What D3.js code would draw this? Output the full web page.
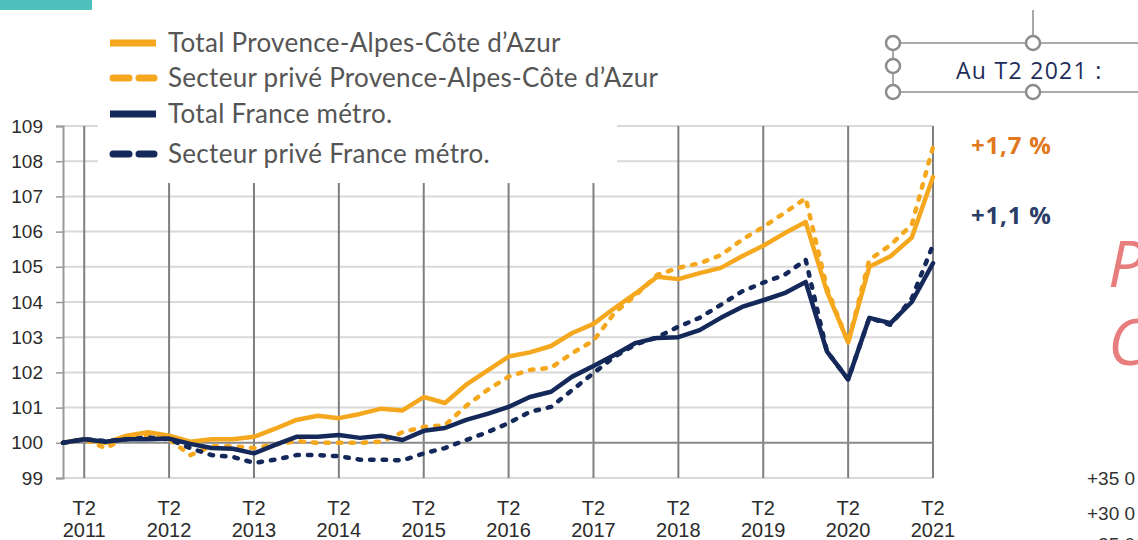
<!DOCTYPE html>
<html>
<head>
<meta charset="utf-8">
<script src="https://d3js.org/d3.v7.min.js"></script>
<style>
  body { margin: 0; background: #fff; }
  svg { display: block; }
</style>
</head>
<body>
<div id="chart"></div>
<script>

// quarters from T1 2011 to T2 2021
var quarters = [
  "2011T1","2011T2","2011T3","2011T4","2012T1","2012T2","2012T3","2012T4",
  "2013T1","2013T2","2013T3","2013T4","2014T1","2014T2","2014T3","2014T4",
  "2015T1","2015T2","2015T3","2015T4","2016T1","2016T2","2016T3","2016T4",
  "2017T1","2017T2","2017T3","2017T4","2018T1","2018T2","2018T3","2018T4",
  "2019T1","2019T2","2019T3","2019T4","2020T1","2020T2","2020T3","2020T4",
  "2021T1","2021T2"
];

var totalPaca = [
  100.0,100.1,100.0,100.2,100.3,100.2,100.03,100.1,100.1,100.17,100.4,100.65,
  100.77,100.7,100.82,100.97,100.92,101.3,101.13,101.65,102.05,102.45,102.57,102.75,
  103.12,103.38,103.83,104.25,104.72,104.65,104.82,104.97,105.3,105.6,105.95,106.27,
  104.3,102.85,105.0,105.3,105.83,107.55
];

var priveePaca = [
  100.0,100.1,99.85,100.15,100.2,100.1,99.65,99.9,99.9,99.85,99.95,100.05,
  100.0,100.0,100.0,100.03,100.3,100.45,100.5,101.05,101.5,101.88,102.07,102.13,
  102.55,102.9,103.7,104.2,104.77,104.97,105.1,105.33,105.77,106.13,106.53,106.95,
  104.4,102.85,105.2,105.62,106.2,108.4
];

var totalFrance = [
  100.0,100.1,100.03,100.1,100.1,100.12,99.97,99.85,99.83,99.7,99.94,100.17,
  100.17,100.22,100.14,100.2,100.08,100.34,100.42,100.65,100.82,101.02,101.3,101.45,
  101.88,102.18,102.5,102.84,102.98,103.0,103.2,103.55,103.86,104.05,104.25,104.57,
  102.6,101.8,103.55,103.4,104.0,105.1
];

var priveeFrance = [
  100.0,100.1,100.05,100.1,100.15,100.1,99.85,99.65,99.6,99.43,99.52,99.65,
  99.65,99.62,99.52,99.52,99.5,99.7,99.85,100.08,100.3,100.56,100.88,101.02,
  101.5,101.98,102.45,102.8,103.0,103.3,103.55,103.92,104.3,104.55,104.77,105.2,
  102.6,101.8,103.55,103.35,104.1,105.62
];

var seriesNames = [
  "Total Provence-Alpes-Côte d’Azur",
  "Secteur privé Provence-Alpes-Côte d’Azur",
  "Total France métro.",
  "Secteur privé France métro."
];

var yTicks = [99,100,101,102,103,104,105,106,107,108,109];
var xTickQuarters = ["2011T2","2012T2","2013T2","2014T2","2015T2","2016T2",
                     "2017T2","2018T2","2019T2","2020T2","2021T2"];

var orange = "#f5a81e",
    navy = "#14295a";

var series = [
  {name: seriesNames[0], values: totalPaca, color: orange, dash: null},
  {name: seriesNames[1], values: priveePaca, color: orange, dash: "3.5,9"},
  {name: seriesNames[2], values: totalFrance, color: navy, dash: null},
  {name: seriesNames[3], values: priveeFrance, color: navy, dash: "3.5,9"}
];

var W = 1138, H = 540;
var svg = d3.select("#chart").append("svg")
    .attr("width", W)
    .attr("height", H);

var x = d3.scalePoint()
    .domain(quarters)
    .range([63, 933]);

var y = d3.scaleLinear()
    .domain([99, 109])
    .range([478, 126]);

// teal tab top-left
svg.append("rect")
    .attr("x", 0).attr("y", 0)
    .attr("width", 92).attr("height", 10)
    .attr("fill", "#4fc0bb");

// horizontal gridlines
svg.append("g").selectAll("line")
  .data(yTicks.filter(function(d){ return d !== 100; }))
  .enter().append("line")
    .attr("x1", 63).attr("x2", x("2021T2"))
    .attr("y1", function(d){ return y(d); })
    .attr("y2", function(d){ return y(d); })
    .attr("stroke", "#d9d9d9")
    .attr("stroke-width", 2);

// vertical gridlines at every T2
svg.append("g").selectAll("line")
  .data(xTickQuarters)
  .enter().append("line")
    .attr("x1", function(d){ return x(d); })
    .attr("x2", function(d){ return x(d); })
    .attr("y1", y(109))
    .attr("y2", y(99))
    .attr("stroke", "#7f7f7f")
    .attr("stroke-width", 2);

// y axis
var yAxis = svg.append("g")
    .attr("transform", "translate(63,0)")
    .call(d3.axisLeft(y).tickValues(yTicks).tickSize(7).tickPadding(13).tickFormat(d3.format("d")));
yAxis.select(".domain").attr("stroke", "#999").attr("stroke-width", 2);
yAxis.selectAll(".tick line").attr("stroke", "#999").attr("stroke-width", 1.5);
yAxis.selectAll("text")
    .attr("fill", "#2b2b2b")
    .style("font-family", "'Liberation Sans', Arial, sans-serif")
    .style("font-size", "19px");

// base 100 line
svg.append("line")
    .attr("x1", 63).attr("x2", x("2021T2"))
    .attr("y1", y(100)).attr("y2", y(100))
    .attr("stroke", "#8a8a8a")
    .attr("stroke-width", 2);

// x labels: T2 / year
var xl = svg.append("g").selectAll("text")
  .data(xTickQuarters)
  .enter().append("text")
    .attr("x", function(d){ return x(d); })
    .attr("text-anchor", "middle")
    .attr("fill", "#2b2b2b")
    .style("font-family", "'Liberation Sans', Arial, sans-serif")
    .style("font-size", "20px");
xl.append("tspan").attr("x", function(d){ return x(d); }).attr("y", 515).text("T2");
xl.append("tspan").attr("x", function(d){ return x(d); }).attr("y", 537)
    .text(function(d){ return d.slice(0, 4); });

// lines
var line = d3.line()
    .x(function(d, i){ return x(quarters[i]); })
    .y(function(d){ return y(d); });

svg.append("g").selectAll("path")
  .data(series)
  .enter().append("path")
    .attr("d", function(d){ return line(d.values); })
    .attr("fill", "none")
    .attr("stroke", function(d){ return d.color; })
    .attr("stroke-width", 4.5)
    .attr("stroke-linecap", "round")
    .attr("stroke-linejoin", "round")
    .attr("stroke-dasharray", function(d){ return d.dash; });

// legend (white box over the grid)
svg.append("rect")
    .attr("x", 98).attr("y", 18)
    .attr("width", 519).attr("height", 165)
    .attr("fill", "#fff");

var legendY = [43, 78, 114, 154];
var lg = svg.append("g").selectAll("g")
  .data(series)
  .enter().append("g")
    .attr("transform", function(d, i){ return "translate(0," + legendY[i] + ")"; });

lg.filter(function(d){ return !d.dash; })
  .append("line")
    .attr("x1", 110).attr("x2", 156)
    .attr("stroke", function(d){ return d.color; })
    .attr("stroke-width", 7);

lg.filter(function(d){ return d.dash; })
  .selectAll("line")
  .data(function(d){ return [[113, 129, d.color], [139, 154, d.color]]; })
  .enter().append("line")
    .attr("x1", function(d){ return d[0]; })
    .attr("x2", function(d){ return d[1]; })
    .attr("stroke", function(d){ return d[2]; })
    .attr("stroke-width", 7)
    .attr("stroke-linecap", "round");

lg.append("text")
    .attr("x", 168)
    .attr("y", 9)
    .attr("fill", "#555")
    .style("font-family", "Lato, sans-serif")
    .style("font-size", "26px")
    .style("letter-spacing", "0.3px")
    .text(function(d){ return d.name; });

// text box with selection handles
var box = svg.append("g");
box.append("line").attr("x1", 1033).attr("x2", 1033).attr("y1", 10).attr("y2", 43);
box.append("line").attr("x1", 893).attr("x2", W).attr("y1", 43).attr("y2", 43);
box.append("line").attr("x1", 893).attr("x2", W).attr("y1", 92).attr("y2", 92);
box.append("line").attr("x1", 893).attr("x2", 893).attr("y1", 43).attr("y2", 92);
box.selectAll("line").attr("stroke", "#8c8c8c").attr("stroke-width", 1.5);
box.selectAll("circle")
  .data([[893, 43], [893, 66], [893, 92], [1033, 43], [1033, 92]])
  .enter().append("circle")
    .attr("cx", function(d){ return d[0]; })
    .attr("cy", function(d){ return d[1]; })
    .attr("r", 7)
    .attr("fill", "#fff")
    .attr("stroke", "#8c8c8c")
    .attr("stroke-width", 2.5);
box.append("text")
    .attr("x", 956).attr("y", 79)
    .attr("fill", "#1f2d5a")
    .style("font-family", "'Open Sans', sans-serif")
    .style("font-size", "23px")
    .style("letter-spacing", "1.3px")
    .text("Au T2 2021 :");

svg.append("text")
    .attr("x", 971).attr("y", 154)
    .attr("fill", "#e07820")
    .style("font-family", "'Open Sans', sans-serif")
    .style("font-weight", "bold")
    .style("font-size", "24px")
    .style("letter-spacing", "0.8px")
    .text("+1,7 %");

svg.append("text")
    .attr("x", 971).attr("y", 224)
    .attr("fill", "#2a3d66")
    .style("font-family", "'Open Sans', sans-serif")
    .style("font-weight", "bold")
    .style("font-size", "24px")
    .style("letter-spacing", "0.8px")
    .text("+1,1 %");

// cut-off title letters on the right
svg.append("text")
    .attr("x", 1108).attr("y", 287)
    .attr("fill", "#e87d7d")
    .style("font-family", "'Open Sans', sans-serif")
    .style("font-style", "italic")
    .style("font-size", "64px")
    .text("P");
svg.append("text")
    .attr("x", 1108).attr("y", 365)
    .attr("fill", "#e87d7d")
    .style("font-family", "'Open Sans', sans-serif")
    .style("font-style", "italic")
    .style("font-size", "64px")
    .text("C");

svg.append("g").selectAll("text")
  .data([["+35 0", 485], ["+30 0", 520], ["+25 0", 551]])
  .enter().append("text")
    .attr("x", 1087)
    .attr("y", function(d){ return d[1]; })
    .attr("fill", "#333")
    .style("font-family", "'Liberation Sans', Arial, sans-serif")
    .style("font-size", "19px")
    .text(function(d){ return d[0]; });

</script>
</body>
</html>
